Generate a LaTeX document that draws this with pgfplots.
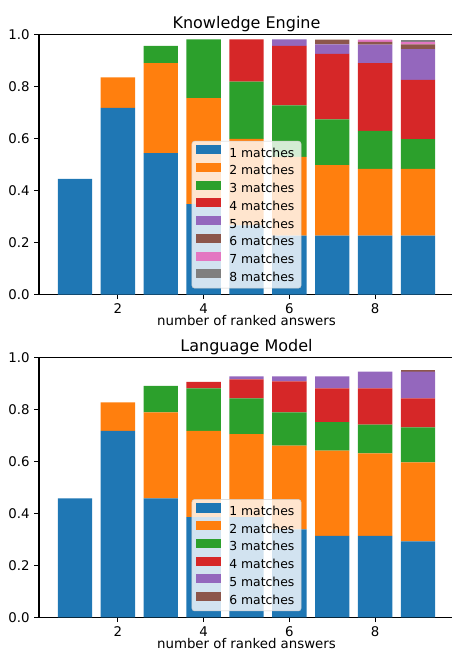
\documentclass[border=0pt]{standalone}
\usepackage{pgfplots}
\pgfplotsset{compat=1.18}
\usepackage{fontspec}
\setmainfont{DejaVu Sans}
\definecolor{c1}{HTML}{1F77B4}
\definecolor{c2}{HTML}{FF7F0E}
\definecolor{c3}{HTML}{2CA02C}
\definecolor{c4}{HTML}{D62728}
\definecolor{c5}{HTML}{9467BD}
\definecolor{c6}{HTML}{8C564B}
\definecolor{c7}{HTML}{E377C2}
\definecolor{c8}{HTML}{7F7F7F}
\pgfplotsset{
  kchart/.style={
    scale only axis, width=311.25pt, height=195pt,
    xmin=0.16, xmax=9.84, ymin=0, ymax=1,
    ybar stacked, bar width=0.8,
    xtick={2,4,6,8}, ytick={0,0.2,0.4,0.6,0.8,1},
    y tick label style={/pgf/number format/.cd, fixed, fixed zerofill, precision=1, /tikz/.cd},
    /pgf/number format/assume math mode=true,
    tick align=outside, xtick pos=bottom, ytick pos=left, major tick length=3.5pt,
    tick style={black, line width=0.8pt},
    axis line style={line width=0.8pt},
    tick label style={font=\fontsize{10}{12}\selectfont},
    xlabel={number of ranked answers},
    xlabel style={font=\fontsize{10}{12}\selectfont, at={(axis description cs:0.5,0)}, anchor=base, yshift=-23.4pt, inner sep=0pt},
    every axis title shift=0pt,
    title style={font=\fontsize{12}{14}\selectfont, at={(axis description cs:0.5,1)}, anchor=base, yshift=4.6pt, inner sep=0pt},
    legend style={at={(axis description cs:0.5,0)}, anchor=south, yshift=4.6pt,
      fill=white, fill opacity=0.8, text opacity=1, draw=black!20, rounded corners=2pt,
      font=\fontsize{9.3}{10}\selectfont, inner xsep=3pt, inner ysep=3pt, row sep=2.2pt, column sep=4.5pt,
      nodes={inner xsep=2pt, inner ysep=0pt, text height=7pt, text depth=2.2pt}},
    legend cell align=left,
    legend image code/.code={\fill[#1, fill opacity=1, sharp corners] (0pt,-0.3pt) rectangle (18.5pt,6.5pt);},
  },
  segs/.style={draw=none},
}
\begin{document}
\begin{tikzpicture}
\begin{axis}[kchart, name=top, at={(0,0)}, anchor=south west, title={Knowledge Engine}]
\addplot[segs, fill=c1] coordinates {(1,0.445) (2,0.718) (3,0.544) (4,0.348) (5,0.266) (6,0.227) (7,0.227) (8,0.227) (9,0.227)};
\addlegendentry{1 matches}
\addplot[segs, fill=c2] coordinates {(1,0) (2,0.117) (3,0.346) (4,0.407) (5,0.333) (6,0.302) (7,0.271) (8,0.256) (9,0.256)};
\addlegendentry{2 matches}
\addplot[segs, fill=c3] coordinates {(1,0) (2,0) (3,0.066) (4,0.226) (5,0.220) (6,0.199) (7,0.176) (8,0.146) (9,0.115)};
\addlegendentry{3 matches}
\addplot[segs, fill=c4] coordinates {(1,0) (2,0) (3,0) (4,0) (5,0.162) (6,0.228) (7,0.252) (8,0.261) (9,0.228)};
\addlegendentry{4 matches}
\addplot[segs, fill=c5] coordinates {(1,0) (2,0) (3,0) (4,0) (5,0) (6,0.025) (7,0.036) (8,0.071) (9,0.118)};
\addlegendentry{5 matches}
\addplot[segs, fill=c6] coordinates {(1,0) (2,0) (3,0) (4,0) (5,0) (6,0) (7,0.018) (8,0.011) (9,0.018)};
\addlegendentry{6 matches}
\addplot[segs, fill=c7] coordinates {(1,0) (2,0) (3,0) (4,0) (5,0) (6,0) (7,0) (8,0.008) (9,0.010)};
\addlegendentry{7 matches}
\addplot[segs, fill=c8] coordinates {(1,0) (2,0) (3,0) (4,0) (5,0) (6,0) (7,0) (8,0) (9,0.008)};
\addlegendentry{8 matches}
\end{axis}
\begin{axis}[kchart, at={(0pt,-47.1pt)}, anchor=north west, title={Language Model}]
\addplot[segs, fill=c1] coordinates {(1,0.458) (2,0.717) (3,0.458) (4,0.385) (5,0.385) (6,0.338) (7,0.313) (8,0.313) (9,0.292)};
\addlegendentry{1 matches}
\addplot[segs, fill=c2] coordinates {(1,0) (2,0.110) (3,0.330) (4,0.332) (5,0.320) (6,0.322) (7,0.328) (8,0.318) (9,0.304)};
\addlegendentry{2 matches}
\addplot[segs, fill=c3] coordinates {(1,0) (2,0) (3,0.102) (4,0.164) (5,0.137) (6,0.128) (7,0.110) (8,0.110) (9,0.135)};
\addlegendentry{3 matches}
\addplot[segs, fill=c4] coordinates {(1,0) (2,0) (3,0) (4,0.025) (5,0.073) (6,0.120) (7,0.130) (8,0.140) (9,0.111)};
\addlegendentry{4 matches}
\addplot[segs, fill=c5] coordinates {(1,0) (2,0) (3,0) (4,0) (5,0.012) (6,0.019) (7,0.046) (8,0.064) (9,0.103)};
\addlegendentry{5 matches}
\addplot[segs, fill=c6] coordinates {(1,0) (2,0) (3,0) (4,0) (5,0) (6,0) (7,0) (8,0) (9,0.006)};
\addlegendentry{6 matches}
\end{axis}
\pgfresetboundingbox
\path[use as bounding box] (-29.25pt,-266.6pt) rectangle (309.75pt,220.9pt);
\end{tikzpicture}
\end{document}
